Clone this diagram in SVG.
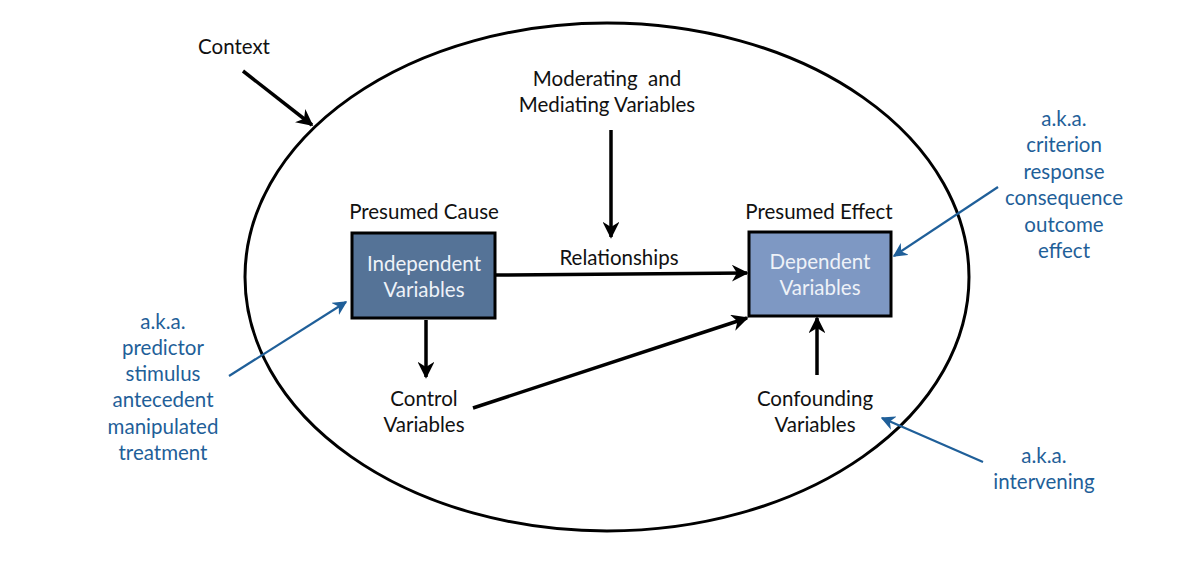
<svg xmlns="http://www.w3.org/2000/svg" width="1182" height="561" viewBox="0 0 1182 561">
<defs>
<marker id="ah" viewBox="0 0 10 10" refX="9" refY="5" markerWidth="4.8" markerHeight="4.8" orient="auto" markerUnits="strokeWidth"><path d="M0,0 L10,5 L0,10 L3,5 z" fill="#000"/></marker>
<marker id="bh" viewBox="0 0 10 10" refX="9" refY="5" markerWidth="6.5" markerHeight="6.5" orient="auto" markerUnits="strokeWidth"><path d="M0,0 L10,5 L0,10 L3,5 z" fill="#1f5f99"/></marker>
</defs>
<style>
text{font-family:"Lato","Open Sans","Liberation Sans",sans-serif;font-size:20.5px;text-anchor:middle;fill:#111}
.b{fill:#1f5f99}
.w{fill:#eef2f8}
.k{stroke:#000;stroke-width:3.5;fill:none}
.bl{stroke:#1f5f99;stroke-width:2.2;fill:none}
</style>
<rect width="1182" height="561" fill="#fff"/>
<g id="context-ellipse"><ellipse cx="607" cy="277" rx="362" ry="254" fill="none" stroke="#000" stroke-width="3"/></g>
<g id="connectors">
<line class="k" x1="243" y1="71" x2="312" y2="125" marker-end="url(#ah)"/>
<line class="k" x1="611" y1="130" x2="611" y2="237" marker-end="url(#ah)"/>
<line class="k" x1="495" y1="275" x2="747" y2="273" marker-end="url(#ah)"/>
<line class="k" x1="426" y1="320" x2="426" y2="377" marker-end="url(#ah)"/>
<line class="k" x1="473" y1="408" x2="747" y2="318" marker-end="url(#ah)"/>
<line class="k" x1="817" y1="375" x2="817" y2="318" marker-end="url(#ah)"/>
<line class="bl" x1="229" y1="376" x2="346" y2="302" marker-end="url(#bh)"/>
<line class="bl" x1="998" y1="187" x2="894" y2="256" marker-end="url(#bh)"/>
<line class="bl" x1="983" y1="462" x2="882" y2="418" marker-end="url(#bh)"/>
</g>
<g id="context"><text x="234" y="54">Context</text></g>
<g id="moderating"><text x="607" y="86" xml:space="preserve">Moderating  and</text><text x="607" y="112">Mediating Variables</text></g>
<g id="independent">
<text x="424" y="219">Presumed Cause</text>
<rect x="352" y="233" width="143" height="85" fill="#557397" stroke="#000" stroke-width="3"/>
<text class="w" x="424" y="271">Independent</text><text class="w" x="424" y="297">Variables</text>
</g>
<g id="dependent">
<text x="819" y="219">Presumed Effect</text>
<rect x="749" y="232" width="142" height="84" fill="#7e98c3" stroke="#000" stroke-width="3"/>
<text class="w" x="820" y="269">Dependent</text><text class="w" x="820" y="295">Variables</text>
</g>
<g id="relationships"><text x="619" y="265">Relationships</text></g>
<g id="control"><text x="424" y="406">Control</text><text x="424" y="432">Variables</text></g>
<g id="confounding"><text x="815" y="406">Confounding</text><text x="815" y="432">Variables</text></g>
<g id="aka-left">
<text class="b" x="163" y="329">a.k.a.</text><text class="b" x="163" y="355">predictor</text><text class="b" x="163" y="381">stimulus</text><text class="b" x="163" y="407">antecedent</text><text class="b" x="163" y="434">manipulated</text><text class="b" x="163" y="460">treatment</text>
</g>
<g id="aka-right">
<text class="b" x="1064" y="126">a.k.a.</text><text class="b" x="1064" y="152">criterion</text><text class="b" x="1064" y="179">response</text><text class="b" x="1064" y="205">consequence</text><text class="b" x="1064" y="232">outcome</text><text class="b" x="1064" y="258">effect</text>
</g>
<g id="aka-intervening"><text class="b" x="1044" y="463">a.k.a.</text><text class="b" x="1044" y="489">intervening</text></g>
</svg>
